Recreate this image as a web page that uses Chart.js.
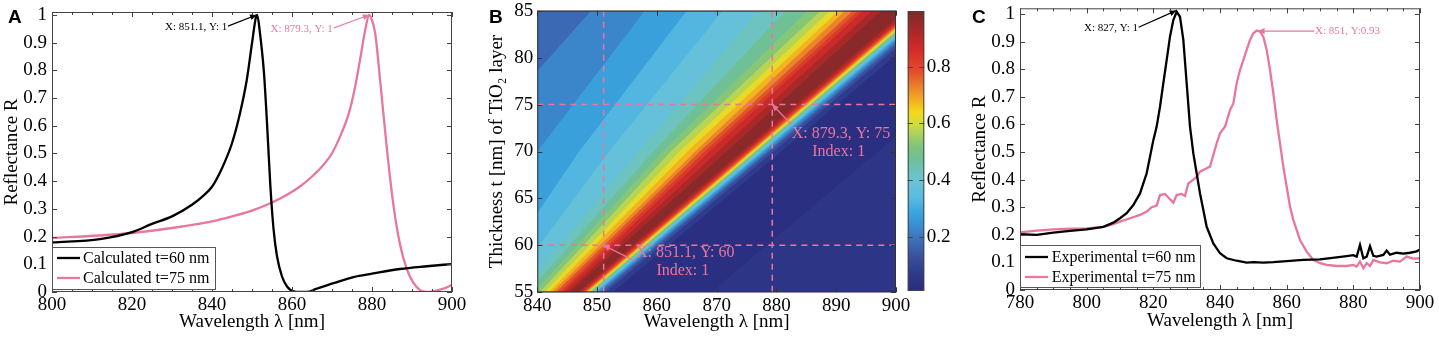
<!DOCTYPE html>
<html>
<head>
<meta charset="utf-8">
<script src="https://cdn.jsdelivr.net/npm/chart.js@4.4.1/dist/chart.umd.min.js"></script>
<style>
    html, body { margin: 0; padding: 0; background: #fff; }
    #wrap { position: relative; width: 1439px; height: 338px; overflow: hidden; }
    canvas { position: absolute; top: 0; }
    .panel { position: absolute; font: bold 19px "Liberation Sans", Arial, sans-serif; line-height: 1; color: #000; }
</style>
</head>
<body>
<div id="wrap">
    <canvas id="chartA" width="480" height="338" style="left:0"></canvas>
    <canvas id="chartB" width="440" height="338" style="left:480px"></canvas>
    <canvas id="chartBar" width="60" height="338" style="left:900px"></canvas>
    <canvas id="chartC" width="479" height="338" style="left:960px"></canvas>
    <div class="panel" style="left:8px;top:7px">A</div>
    <div class="panel" style="left:489px;top:7px">B</div>
    <div class="panel" style="left:972px;top:7px">C</div>
</div>
<script>
// ---------- Panel A: calculated spectra ----------
const calc60X = [800, 812, 820, 825, 830, 835, 838, 840, 842.5, 845, 847, 848.7, 850, 851, 851.3, 852, 853, 853.8, 854.6, 855.4, 856.25, 857.5, 858.75, 860.4, 862, 863.75, 866, 870.4, 875.4, 880, 887, 893.75, 900];
const calc60Y = [0.179, 0.191, 0.216, 0.246, 0.273, 0.315, 0.35, 0.38, 0.447, 0.537, 0.645, 0.766, 0.898, 0.994, 1.0, 0.934, 0.79, 0.597, 0.381, 0.225, 0.129, 0.056, 0.02, 0.002, 0, 0, 0.011, 0.032, 0.054, 0.066, 0.083, 0.093, 0.101];
const calc75X = [800, 812, 820, 830, 840, 845, 850, 855, 858.75, 862, 865, 867.5, 870, 872, 874.2, 875.8, 877, 878.3, 879.3, 879.8, 880.8, 882.1, 883.75, 885.4, 887.1, 888.75, 890.4, 892.1, 893.75, 896.25, 898.3, 900];
const calc75Y = [0.195, 0.204, 0.213, 0.231, 0.255, 0.273, 0.294, 0.323, 0.351, 0.381, 0.417, 0.453, 0.501, 0.561, 0.645, 0.742, 0.838, 0.946, 1.0, 0.99, 0.934, 0.754, 0.513, 0.309, 0.165, 0.081, 0.032, 0.006, 0, 0.006, 0.014, 0.026];

// ---------- Panel C: experimental spectra ----------
const exp60X = [780, 785, 790, 795, 800, 805, 808, 810, 812, 814, 816, 818, 819, 820, 821, 822, 823, 824, 825, 826, 827, 828, 829, 830, 831, 832, 833, 834, 835, 836, 838, 840, 842, 845, 848, 850, 853, 856, 860, 865, 870, 875, 878, 880, 881, 882, 883, 884, 885, 886, 887, 889, 890, 891, 893, 895, 897, 899, 900];
const exp60Y = [0.202, 0.2, 0.208, 0.214, 0.22, 0.229, 0.244, 0.26, 0.278, 0.308, 0.35, 0.423, 0.483, 0.543, 0.592, 0.664, 0.749, 0.833, 0.918, 0.978, 1.008, 0.99, 0.906, 0.749, 0.592, 0.495, 0.423, 0.35, 0.29, 0.229, 0.169, 0.133, 0.115, 0.106, 0.099, 0.101, 0.099, 0.101, 0.105, 0.109, 0.111, 0.118, 0.123, 0.126, 0.121, 0.163, 0.115, 0.121, 0.159, 0.124, 0.121, 0.127, 0.143, 0.128, 0.135, 0.132, 0.135, 0.14, 0.147];
const exp75X = [780, 785, 790, 795, 800, 805, 808, 810, 813, 816, 818, 819.5, 821, 822, 823.5, 825, 826, 827, 828.5, 829.5, 830.5, 832, 833, 834, 836, 837, 838, 839, 840, 841.5, 843, 844, 845, 846, 847, 848, 849, 850, 851, 852, 853, 854, 855, 856, 857, 858, 859, 860, 861, 862, 864, 866, 868, 870, 872, 875, 878, 880, 881, 882, 883, 884, 885, 886, 888, 890, 892, 894, 896, 898, 900];
const exp75Y = [0.209, 0.215, 0.22, 0.222, 0.223, 0.229, 0.239, 0.248, 0.26, 0.272, 0.284, 0.3, 0.306, 0.344, 0.348, 0.329, 0.316, 0.344, 0.348, 0.341, 0.386, 0.4, 0.41, 0.429, 0.441, 0.447, 0.489, 0.531, 0.568, 0.592, 0.652, 0.676, 0.749, 0.797, 0.833, 0.87, 0.906, 0.93, 0.94, 0.936, 0.918, 0.87, 0.797, 0.713, 0.616, 0.531, 0.447, 0.374, 0.302, 0.254, 0.181, 0.139, 0.109, 0.097, 0.091, 0.087, 0.087, 0.091, 0.085, 0.103, 0.079, 0.097, 0.087, 0.109, 0.1, 0.097, 0.106, 0.103, 0.121, 0.114, 0.115];

// ---------- Panel B: contour boundaries (wavelength where R crosses a level) ----------
const hmRows = [55, 70, 85];   // thickness rows the boundaries were read at
const leftLevels = [0.15, 0.2, 0.25, 0.3, 0.35, 0.4, 0.45, 0.5, 0.55, 0.6, 0.65, 0.7, 0.75, 0.8, 0.85, 0.9, 0.95];
const left55 = [806, 816, 826, 831, 834.5, 837, 838.4, 839.5, 840.4, 841.2, 841.9, 842.5, 843.1, 843.7, 844.2, 844.8, 845.4];
const left70 = [815, 828, 840, 847, 852, 857, 859.4, 861, 862.3, 863.8, 865.1, 866.4, 867.2, 868, 868.8, 870.2, 871.7];
const left85 = [838, 849, 858, 865, 871, 877, 881.5, 885.2, 887.4, 889, 890.4, 891.5, 892.8, 893.7, 894.5, 896, 897.5];
const rightLevels = [0.05, 0.1, 0.15, 0.2, 0.25, 0.3, 0.35, 0.4, 0.45, 0.5, 0.55, 0.6, 0.65, 0.7, 0.75, 0.8, 0.85, 0.9, 0.95];
const right55 = [852.6, 851.4, 850.8, 850.4, 850.1, 849.8, 849.6, 849.4, 849.2, 849.0, 848.8, 848.6, 848.4, 848.2, 848.0, 847.8, 847.5, 847.2, 846.8];
const right70 = [880.8, 879.5, 878.8, 878.4, 878.0, 877.7, 877.4, 877.1, 876.9, 876.7, 876.5, 876.3, 876.0, 875.8, 875.6, 875.3, 875.0, 874.7, 874.2];
const right85 = [908.8, 907.4, 906.7, 906.2, 905.8, 905.4, 905.1, 904.8, 904.6, 904.4, 904.1, 903.9, 903.6, 903.4, 903.1, 902.8, 902.5, 902.1, 901.5];
const tailEdge = [869, 897, 925];  // far-right rise back above ~0.05
const markX = [851.1, 879.3];
const markY = [60, 75];

// ---------- tick labels ----------
const ticksA_x = [800, 820, 840, 860, 880, 900];
const ticksAC_y = [0, 0.1, 0.2, 0.3, 0.4, 0.5, 0.6, 0.7, 0.8, 0.9, 1];
const ticksB_x = [840, 850, 860, 870, 880, 890, 900];
const ticksB_y = [55, 60, 65, 70, 75, 80, 85];
const ticksBar = [0.2, 0.4, 0.6, 0.8];
const ticksC_x = [780, 800, 820, 840, 860, 880, 900];

const PINK = "#e8769e";
const SERIF = '"Liberation Serif", "Times New Roman", serif';

// jet-like colour map as printed in the figure
const cmapStops = [
    [0.0, "#2a2a7c"], [0.07, "#2e3a8c"], [0.13, "#3a509e"], [0.18, "#3c6cb6"],
    [0.24, "#3a8ed2"], [0.29, "#3aa8e0"], [0.34, "#5cbce0"], [0.40, "#6cc4d4"],
    [0.47, "#6ec09a"], [0.52, "#80c47c"], [0.56, "#a8d060"], [0.60, "#d4dc40"],
    [0.64, "#f4d81a"], [0.68, "#f2b020"], [0.72, "#ec8a2a"], [0.78, "#e0502a"],
    [0.86, "#d42a2a"], [0.93, "#a82828"], [1.0, "#7a2a2a"]
];

function hexRgb(h) {
    return [1, 3, 5].map(i => parseInt(h.slice(i, i + 2), 16));
}

function shade(v) {
    for (let i = 1; i < cmapStops.length; i++) {
        if (v <= cmapStops[i][0]) {
            const [v0, c0] = cmapStops[i - 1];
            const [v1, c1] = cmapStops[i];
            const f = (v - v0) / (v1 - v0);
            const a = hexRgb(c0), b = hexRgb(c1);
            const c = a.map((x, k) => Math.round(x + (b[k] - x) * f));
            return `rgb(${c[0]},${c[1]},${c[2]})`;
        }
    }
    return cmapStops[cmapStops.length - 1][1];
}

Chart.defaults.font.family = SERIF;
Chart.defaults.color = "#000";

function pts(xs, ys) {
    return xs.map((x, i) => ({ x: x, y: ys[i] }));
}

function fixedTicks(list) {
    return s => { s.ticks = list.map(v => ({ value: v })); };
}

// Axis in MATLAB style: labels only, box and ticks drawn by the plugin below
function axis(min, max, ticks, title, size, titlePad, tickPad, extra) {
    return Object.assign({
        type: "linear",
        min: min,
        max: max,
        afterBuildTicks: fixedTicks(ticks),
        afterFit: s => {
            if (s.isHorizontal()) s.height = size; else s.width = size;
            // keep the plot box exactly where the layout padding puts it
            s.paddingTop = s.paddingBottom = s.paddingLeft = s.paddingRight = 0;
        },
        grid: { display: false, drawTicks: false },
        border: { display: false },
        ticks: { font: { size: 19 }, padding: tickPad, autoSkip: false, maxRotation: 0, callback: v => String(v) },
        title: { display: !!title, text: title, font: { size: 19 }, padding: titlePad }
    }, extra || {});
}

// Box around the plot with inward ticks on all sides
const matlabBox = {
    id: "matlabBox",
    afterDraw(chart, args, o) {
        const { ctx, chartArea: a, scales } = chart;
        ctx.save();
        ctx.strokeStyle = o.color || "#444";
        ctx.lineWidth = 1;
        ctx.strokeRect(a.left + 0.5, a.top + 0.5, a.width - 1, a.height - 1);
        const tick = (list, len, horiz) => {
            (list || []).forEach(v => {
                ctx.beginPath();
                if (horiz) {
                    const p = Math.round(scales.x.getPixelForValue(v)) + 0.5;
                    ctx.moveTo(p, a.bottom); ctx.lineTo(p, a.bottom - len);
                    ctx.moveTo(p, a.top); ctx.lineTo(p, a.top + len);
                } else {
                    const p = Math.round(scales.y.getPixelForValue(v)) + 0.5;
                    ctx.moveTo(a.left, p); ctx.lineTo(a.left + len, p);
                    ctx.moveTo(a.right, p); ctx.lineTo(a.right - len, p);
                }
                ctx.stroke();
            });
        };
        tick(o.xMajor, 5, true);
        tick(o.xMinor, 3, true);
        tick(o.yMajor, 5, false);
        tick(o.yMinor, 3, false);
        ctx.restore();
    }
};

// Legend box in the lower left corner of the plot
const boxLegend = {
    id: "boxLegend",
    afterDraw(chart, args, o) {
        if (!o.box) return;
        const { ctx } = chart;
        const [x, y, w, h] = o.box;
        ctx.save();
        ctx.fillStyle = "#fff";
        ctx.fillRect(x, y, w, h);
        ctx.strokeStyle = "#555";
        ctx.lineWidth = 1;
        ctx.strokeRect(x + 0.5, y + 0.5, w, h);
        ctx.font = "16px " + SERIF;
        ctx.textBaseline = "middle";
        chart.data.datasets.forEach((ds, i) => {
            const ry = y + o.rows[i];
            ctx.strokeStyle = ds.borderColor;
            ctx.lineWidth = 2.3;
            ctx.beginPath();
            ctx.moveTo(x + 5, ry); ctx.lineTo(x + 28, ry);
            ctx.stroke();
            ctx.fillStyle = "#000";
            ctx.fillText(ds.label, x + o.textX, ry + 1);
        });
        ctx.restore();
    }
};

// Data tips: arrow from the label to the marked point
const dataTips = {
    id: "dataTips",
    afterDatasetsDraw(chart, args, o) {
        const { ctx, scales } = chart;
        const px = p => [scales.x.getPixelForValue(p[0]), scales.y.getPixelForValue(p[1])];
        ctx.save();
        (o.items || []).forEach(it => {
            ctx.fillStyle = it.color;
            ctx.strokeStyle = it.color;
            ctx.font = it.size + "px " + SERIF;
            ctx.textBaseline = "middle";
            it.texts.forEach(t => {
                const [tx, ty] = px(t.at);
                ctx.textAlign = t.align;
                ctx.fillText(t.text, tx, ty);
            });
            const [x0, y0] = px(it.from);
            const [x1, y1] = px(it.tip);
            const ang = Math.atan2(y1 - y0, x1 - x0);
            ctx.lineWidth = 1.3;
            ctx.beginPath();
            ctx.moveTo(x0, y0); ctx.lineTo(x1, y1);
            ctx.stroke();
            ctx.beginPath();
            ctx.moveTo(x1, y1);
            ctx.lineTo(x1 - 7 * Math.cos(ang - 0.45), y1 - 7 * Math.sin(ang - 0.45));
            ctx.lineTo(x1 - 7 * Math.cos(ang + 0.45), y1 - 7 * Math.sin(ang + 0.45));
            ctx.closePath();
            ctx.fill();
        });
        ctx.restore();
    }
};

function lineSet(label, xs, ys, color, smooth) {
    return {
        label: label,
        data: pts(xs, ys),
        borderColor: color,
        borderWidth: 2.3,
        pointRadius: 0,
        fill: false,
        cubicInterpolationMode: smooth ? "monotone" : "default",
        tension: 0
    };
}

function spectrumChart(id, sets, xMin, xMax, xTicks, yMax, geom, tips, legend) {
    new Chart(document.getElementById(id), {
        type: "line",
        data: { datasets: sets },
        options: {
            responsive: false,
            animation: false,
            layout: { padding: { left: 0, top: geom.top, right: geom.right, bottom: 0 } },
            plugins: {
                legend: { display: false },
                tooltip: { enabled: false },
                matlabBox: { xMajor: xTicks, xMinor: geom.xMinor, yMajor: ticksAC_y, yMinor: geom.yMinor },
                boxLegend: legend,
                dataTips: { items: tips }
            },
            scales: {
                x: axis(xMin, xMax, xTicks, "Wavelength λ [nm]", geom.xh, { top: 0, bottom: geom.xtp }, 2),
                y: axis(0, yMax, ticksAC_y, "Reflectance R", geom.yw, { top: geom.ytp, bottom: 0 }, 5)
            }
        },
        plugins: [matlabBox, boxLegend, dataTips]
    });
}

const minorX = (a, b, s) => { const r = []; for (let v = a; v <= b; v += s) r.push(v); return r; };

// Panel A
spectrumChart("chartA",
    [lineSet("Calculated t=60 nm", calc60X, calc60Y, "#000", true),
     lineSet("Calculated t=75 nm", calc75X, calc75Y, PINK, true)],
    800, 900, ticksA_x, 1.0108,
    { top: 12, right: 28, xh: 46, yw: 52, xtp: 4.6, ytp: 0.6, xMinor: minorX(800, 900, 5), yMinor: [] },
    [
        { color: "#000", size: 11, from: [844, 0.96], tip: [851.1, 1.0], texts: [{ text: "X: 851.1, Y: 1", at: [843.8, 0.957], align: "right" }] },
        { color: PINK, size: 11, from: [870.4, 0.953], tip: [879.3, 1.0], texts: [{ text: "X: 879.3, Y: 1", at: [870.2, 0.949], align: "right" }] }
    ],
    { box: [52, 247, 163, 42], rows: [11, 31], textX: 31 });

// Panel C
spectrumChart("chartC",
    [lineSet("Experimental t=60 nm", exp60X, exp60Y, "#000", false),
     lineSet("Experimental t=75 nm", exp75X, exp75Y, PINK, false)],
    780, 900, ticksC_x, 1.0207,
    { top: 8.3, right: 19, xh: 48, yw: 60, xtp: 5.6, ytp: 8.6, xMinor: minorX(780, 900, 5), yMinor: [] },
    [
        { color: "#000", size: 11, from: [815.6, 0.952], tip: [826.8, 1.012], texts: [{ text: "X: 827, Y: 1", at: [815.4, 0.949], align: "right" }] },
        { color: PINK, size: 11, from: [868.3, 0.938], tip: [851.5, 0.938], texts: [{ text: "X: 851, Y:0.93", at: [868.5, 0.938], align: "left" }] }
    ],
    { box: [60, 245, 180, 42], rows: [12, 32], textX: 31.7 });

// ---------- Panel B: filled contour bands ----------
function band(xs, color, toValue) {
    return {
        data: pts(xs, hmRows),
        backgroundColor: color,
        borderColor: "rgba(0,0,0,0)",
        borderWidth: 0,
        pointRadius: 0,
        tension: 0,
        fill: { value: toValue }
    };
}

// index 0 is painted last, so the top-left bands come first
const bandSets = [];
leftLevels.forEach((lv, i) => {
    const lo = i === 0 ? lv - 0.05 : leftLevels[i - 1];
    bandSets.push(band([left55[i], left70[i], left85[i]], shade((lo + lv) / 2), 700));
});
for (let i = rightLevels.length - 1; i >= 0; i--) {
    const hi = i === rightLevels.length - 1 ? 1 : rightLevels[i + 1];
    bandSets.push(band([right55[i], right70[i], right85[i]], shade((rightLevels[i] + hi) / 2), 700));
}
bandSets.push(band(tailEdge, shade(0.05), 1000));

const navyBack = {
    id: "navyBack",
    beforeDatasetsDraw(chart) {
        const { ctx, chartArea: a } = chart;
        ctx.save();
        ctx.fillStyle = shade(0.02);
        ctx.fillRect(a.left, a.top, a.width, a.height);
        ctx.restore();
    }
};

const crossHairs = {
    id: "crossHairs",
    afterDatasetsDraw(chart) {
        const { ctx, chartArea: a, scales } = chart;
        ctx.save();
        ctx.strokeStyle = PINK;
        ctx.lineWidth = 1.5;
        ctx.setLineDash([6, 5]);
        markX.forEach(v => {
            const p = scales.x.getPixelForValue(v);
            ctx.beginPath(); ctx.moveTo(p, a.top); ctx.lineTo(p, a.bottom); ctx.stroke();
        });
        markY.forEach(v => {
            const p = scales.y.getPixelForValue(v);
            ctx.beginPath(); ctx.moveTo(a.left, p); ctx.lineTo(a.right, p); ctx.stroke();
        });
        ctx.restore();
    }
};

new Chart(document.getElementById("chartB"), {
    type: "line",
    data: { datasets: bandSets },
    options: {
        indexAxis: "y",
        responsive: false,
        animation: false,
        layout: { padding: { left: 0, top: 10.7, right: 24, bottom: 0 } },
        plugins: {
            legend: { display: false },
            tooltip: { enabled: false },
            matlabBox: { color: "#333", xMajor: ticksB_x, yMajor: ticksB_y },
            dataTips: {
                items: [
                    { color: PINK, size: 16, from: [856.34, 58.33], tip: [851.1, 60],
                      texts: [{ text: "X: 851.1, Y: 60", at: [856.5, 59.19], align: "left" },
                              { text: "Index: 1", at: [864.35, 57.27], align: "center" }] },
                    { color: PINK, size: 16, from: [882.56, 72.82], tip: [879.3, 75],
                      texts: [{ text: "X: 879.3, Y: 75", at: [882.56, 71.86], align: "left" },
                              { text: "Index: 1", at: [890.42, 69.94], align: "center" }] }
                ]
            }
        },
        scales: {
            x: axis(840, 900, ticksB_x, "Wavelength λ [nm]", 45.7, { top: 0, bottom: 4.6 }, 2),
            y: axis(55, 85, ticksB_y, "Thickness t [nm] of TiO₂ layer", 57.3, { top: 5.3, bottom: 0 }, 4)
        }
    },
    plugins: [navyBack, crossHairs, matlabBox, dataTips]
});

// Colour bar
new Chart(document.getElementById("chartBar"), {
    type: "bar",
    data: {
        labels: ["R"],
        datasets: [{
            data: [[0.008, 0.9965]],
            barPercentage: 1,
            categoryPercentage: 1,
            backgroundColor: c => {
                const ch = c.chart;
                if (!ch.chartArea || !ch.scales.y) return shade(0.5);
                const ys = ch.scales.y;
                const g = ch.ctx.createLinearGradient(0, ys.getPixelForValue(0), 0, ys.getPixelForValue(1));
                cmapStops.forEach(([v, col]) => g.addColorStop(v, col));
                return g;
            }
        }]
    },
    options: {
        responsive: false,
        animation: false,
        layout: { padding: { left: 7.7, top: 11, right: 0, bottom: 47 } },
        plugins: {
            legend: { display: false },
            tooltip: { enabled: false },
            matlabBox: { color: "#444", yMajor: ticksBar }
        },
        scales: {
            x: { display: false },
            y: axis(0.008, 0.9965, ticksBar, "", 35.7, 0, 2.4, { position: "right" })
        }
    },
    plugins: [matlabBox]
});
</script>
</body>
</html>
